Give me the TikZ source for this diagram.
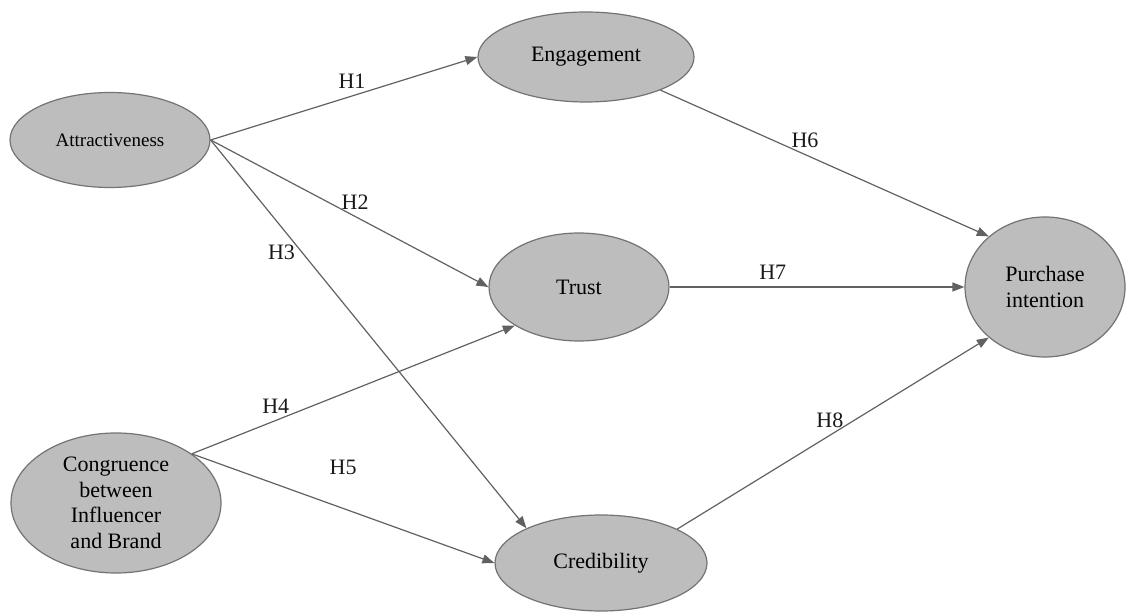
\documentclass[tikz,border=0pt]{standalone}
\usepackage{fontspec}
\setmainfont{Liberation Serif}
\usetikzlibrary{shapes.geometric, arrows.meta}

\begin{document}
\begin{tikzpicture}[
    x=0.5pt, y=-0.5pt,
    construct/.style={ellipse, draw=black!55, fill=black!26, line width=0.6pt, inner sep=0pt, align=center, font=\fontsize{11}{12.8}\selectfont},
    arrow/.style={-{Triangle[length=6pt, width=4.5pt]}, line width=0.6pt, draw=black!62},
    hyp/.style={font=\fontsize{11}{13}\selectfont, text=black!90}
]
    \useasboundingbox (0,0) rectangle (1128,613);

    % Independent constructs
    \node[construct, minimum width=100pt, minimum height=47.5pt, font=\fontsize{9.5}{11}\selectfont] (attr) at (110,140) {Attractiveness};
    \node[construct, minimum width=105pt, minimum height=70pt] (cong) at (116,503) {Congruence\\between\\Influencer\\and Brand};

    % Mediators
    \node[construct, minimum width=108pt, minimum height=45pt] (eng) at (586,57) {Engagement};
    \node[construct, minimum width=90pt, minimum height=54pt] (trust) at (579,287) {Trust};
    \node[construct, minimum width=106pt, minimum height=48pt] (cred) at (601,563) {Credibility};

    % Outcome
    \node[construct, minimum width=80pt, minimum height=70pt] (purch) at (1045,287) {Purchase\\intention};

    % Hypotheses
    \draw[arrow] (attr.east) -- node[hyp, above, pos=0.53] {H1} (eng.west);
    \draw[arrow] (attr.east) -- node[hyp, above, pos=0.52] {H2} (trust.west);
    \draw[arrow] (attr.east) -- node[hyp, left, pos=0.29] {H3} (cred.155);
    \draw[arrow] (cong.33) -- node[hyp, above, pos=0.26] {H4} (trust.211);
    \draw[arrow] (cong.33) -- node[hyp, above=13pt, pos=0.5] {H5} (cred.west);
    \draw[arrow] (eng.336) -- node[hyp, above, pos=0.44] {H6} (purch.138);
    \draw[arrow] (trust.east) -- node[hyp, above, pos=0.35] {H7} (purch.west);
    \draw[arrow] (cred.24) -- node[hyp, above, pos=0.49] {H8} (purch.222);
\end{tikzpicture}
\end{document}
